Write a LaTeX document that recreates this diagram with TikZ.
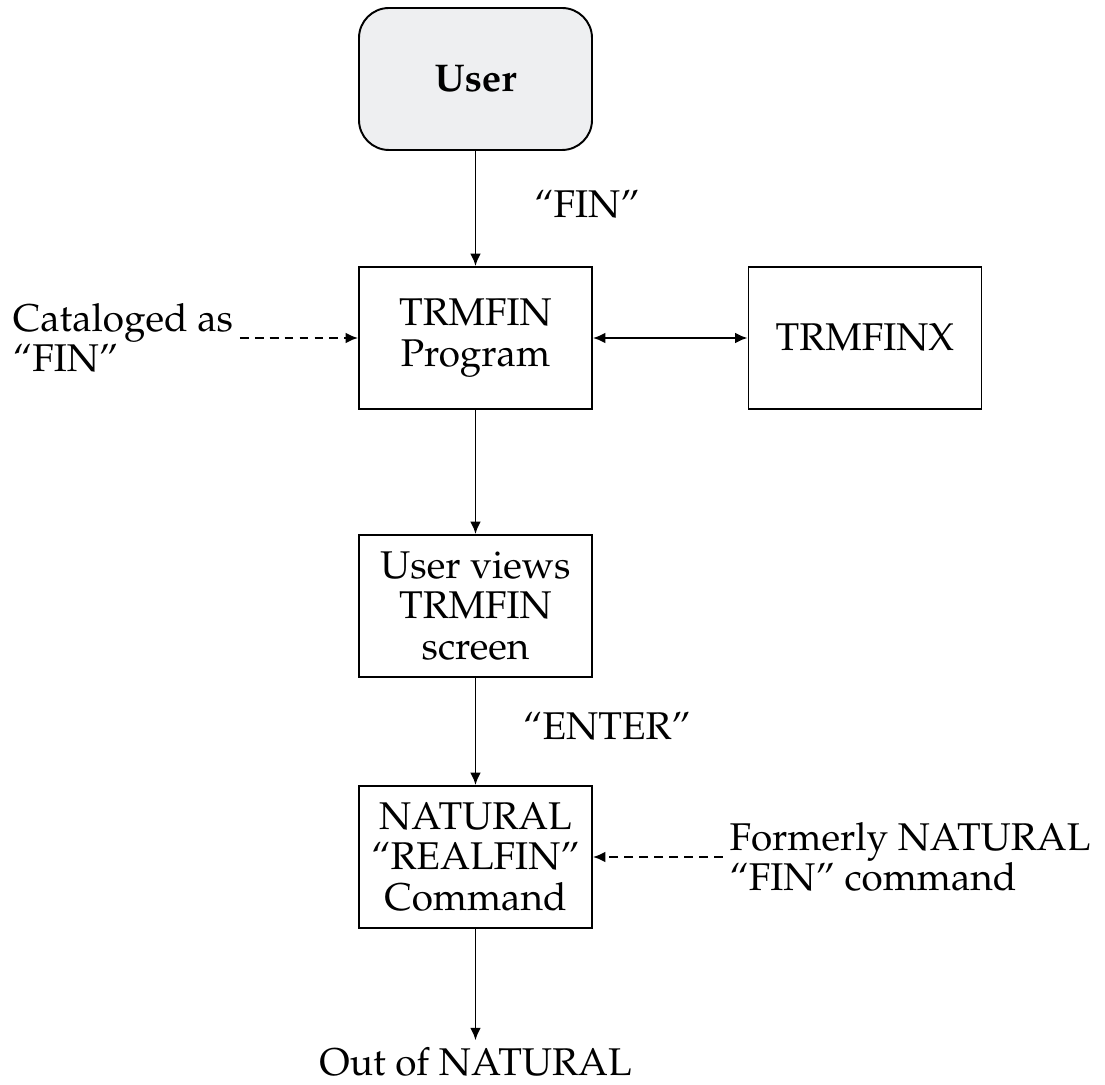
\documentclass[tikz,border=0pt]{standalone}
\usepackage[T1]{fontenc}
\usepackage{mathpazo}
\usepackage{tikz}
\usetikzlibrary{arrows.meta}
\definecolor{usergray}{HTML}{EEEFF1}

\begin{document}
\begin{tikzpicture}[>={Latex[length=7pt,width=6pt]}, line width=1.1pt,
  font=\fontsize{22}{23}\selectfont,
  box/.style={draw, minimum width=4.66cm, minimum height=2.84cm, align=center, inner sep=2pt},
  userbox/.style={box, rounded corners=0.6cm, fill=usergray},
  note/.style={align=left}]
\useasboundingbox (0,0) rectangle (22.1,21.7);
% boxes
\node[userbox] (user) at (9.51,20.12) {\textbf{User}};
\node[box] (prog) at (9.51,14.94) {TRMFIN\\Program};
\node[box] (finx) at (17.3,14.94) {TRMFINX};
\node[box] (views) at (9.51,9.58) {User views\\TRMFIN\\screen};
\node[box] (realfin) at (9.51,4.56) {NATURAL\\``REALFIN''\\Command};
% side notes
\node[note] (cat) at (2.46,14.94) {Cataloged as\\``FIN''};
\node[note] (formerly) at (18.2,4.56) {Formerly NATURAL\\``FIN'' command};
\node (out) at (9.51,0.47) {Out of NATURAL};
\node (finlbl) at (11.74,17.60) {``FIN''};
\node (enterlbl) at (12.14,7.16) {``ENTER''};
% connectors
\draw[->] (user) -- (prog);
\draw[<->] (prog) -- (finx);
\draw[->, dash pattern=on 5pt off 3.5pt] (cat) -- (prog);
\draw[->] (prog) -- (views);
\draw[->] (views) -- (realfin);
\draw[->, dash pattern=on 5pt off 3.5pt] (formerly) -- (realfin);
\draw[->] (realfin) -- (out);
\end{tikzpicture}
\end{document}
